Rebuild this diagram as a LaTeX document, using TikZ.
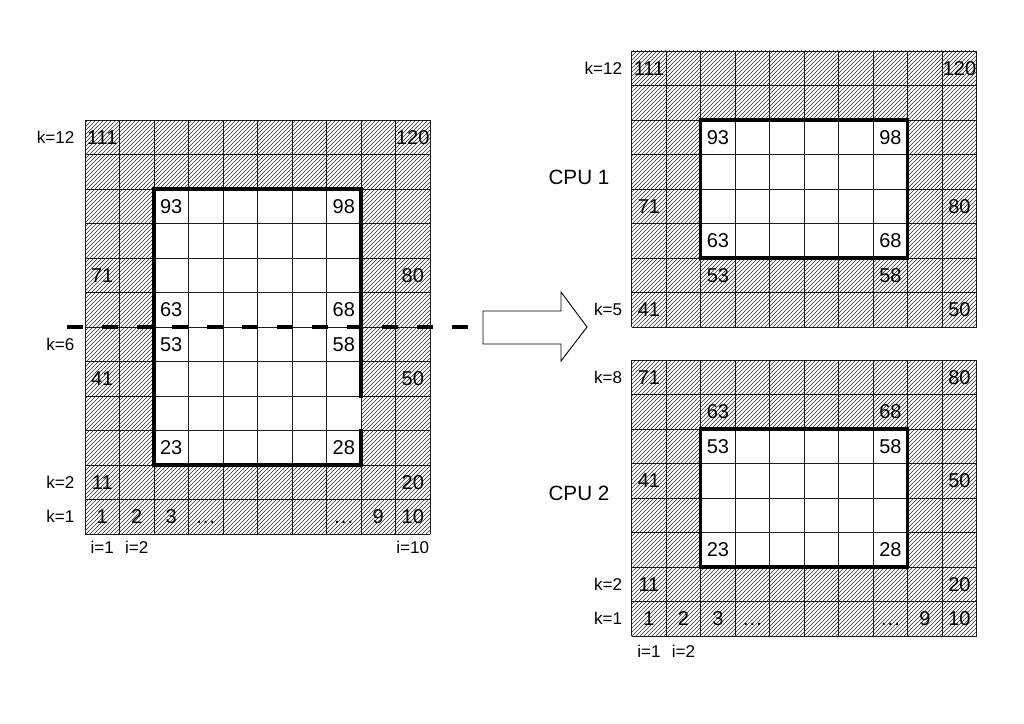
\documentclass[tikz,border=0pt]{standalone}
\usepackage{fontspec}
\setmainfont{Liberation Sans}
\definecolor{hatchgray}{HTML}{2E2E2E}
\definecolor{linegray}{HTML}{1A1A1A}
\usetikzlibrary{patterns}
\tikzset{
  hatched/.style={pattern=north east lines,pattern color=hatchgray},
  cellline/.style={linegray,line width=0.7pt},
  boldbox/.style={line width=2.6pt,line cap=rect},
  num/.style={font=\fontsize{15}{15}\selectfont,inner sep=0pt},
  klabel/.style={font=\fontsize{12.8}{12.8}\selectfont,inner sep=0pt},
  cpulabel/.style={font=\fontsize{15.5}{15.5}\selectfont,inner sep=0pt},
  cutline/.style={line width=2.8pt,dash pattern=on 12pt off 14.25pt},
}
\newcommand{\skipdots}{\vphantom{0}.\kern0.8pt.\kern0.8pt.}
% hatched 10 x #1 grid, white core in columns 3-8
\newcommand{\cellgrid}[1]{%
  \fill[hatched] (0,0) rectangle (10,#1);
  \fill[white] (2,2) rectangle (8,#1-2);
  \foreach \c in {0,...,10} \draw[cellline] (\c,0) -- (\c,#1);
  \foreach \r in {0,...,#1} \draw[cellline] (0,\r) -- (10,\r);
}
\begin{document}
\begin{tikzpicture}[x=0.75pt,y=-0.75pt]
  \useasboundingbox (0,0) rectangle (1024,724);
  % full domain
  \begin{scope}[shift={(85,120)},x=25.875pt,y=-25.875pt]
    \cellgrid{12}
    \draw[boldbox] (8,8) -- (8,2) -- (2,2) -- (2,10) -- (8,10) -- (8,9);
    \foreach \c/\r/\t/\n in {0/0/111/a,9/0/120/b,2/2/93/c,7/2/98/d,0/4/71/e,9/4/80/f,2/5/63/g,7/5/68/h,
      2/6/53/i,7/6/58/j,0/7/41/k,9/7/50/l,2/9/23/m,7/9/28/n,0/10/11/o,9/10/20/p,
      0/11/1/q,1/11/2/r,2/11/3/s,3/11/\skipdots/t,7/11/\skipdots/u,8/11/9/v,9/11/10/w}
      \node[num] (L\n) at (\c+0.5,\r+0.5) {\t};
    \foreach \r/\t/\n in {0/12/a,6/6/b,10/2/c,11/1/d}
      \node[klabel,anchor=east] (Lk\n) at (-0.3,\r+0.5) {k=\t};
    \foreach \c/\t/\n in {0/1/a,1/2/b,9/10/c}
      \node[klabel] (Li\n) at (\c+0.5,12.4) {i=\t};
    \coordinate (cutL) at (-0.52,6);
    \coordinate (cutR) at (11.1,6);
  \end{scope}
  \draw[cutline] (cutL) -- (cutR);
  % split arrow
  \draw[line width=0.7pt] (483,311) -- (561,311) -- (561,292) -- (587,327) -- (561,361) -- (561,344) -- (483,344) -- cycle;
  % CPU 1 part
  \begin{scope}[shift={(631.7,51)},x=25.875pt,y=-25.875pt]
    \cellgrid{8}
    \draw[boldbox] (2,2) rectangle (8,6);
    \foreach \c/\r/\t/\n in {0/0/111/a,9/0/120/b,2/2/93/c,7/2/98/d,0/4/71/e,9/4/80/f,
      2/5/63/g,7/5/68/h,2/6/53/i,7/6/58/j,0/7/41/k,9/7/50/l}
      \node[num] (A\n) at (\c+0.5,\r+0.5) {\t};
    \foreach \r/\t/\n in {0/12/a,7/5/b}
      \node[klabel,anchor=east] (Ak\n) at (-0.27,\r+0.5) {k=\t};
  \end{scope}
  \node[cpulabel] (cpu1) at (579,177) {CPU 1};
  % CPU 2 part
  \begin{scope}[shift={(631.7,360)},x=25.875pt,y=-25.875pt]
    \cellgrid{8}
    \draw[boldbox] (2,2) rectangle (8,6);
    \foreach \c/\r/\t/\n in {0/0/71/a,9/0/80/b,2/1/63/c,7/1/68/d,2/2/53/e,7/2/58/f,0/3/41/g,9/3/50/h,
      2/5/23/i,7/5/28/j,0/6/11/k,9/6/20/l,
      0/7/1/q,1/7/2/r,2/7/3/s,3/7/\skipdots/t,7/7/\skipdots/u,8/7/9/v,9/7/10/w}
      \node[num] (B\n) at (\c+0.5,\r+0.5) {\t};
    \foreach \r/\t/\n in {0/8/a,6/2/b,7/1/c}
      \node[klabel,anchor=east] (Bk\n) at (-0.27,\r+0.5) {k=\t};
    \foreach \c/\t/\n in {0/1/a,1/2/b}
      \node[klabel] (Bi\n) at (\c+0.5,8.45) {i=\t};
  \end{scope}
  \node[cpulabel] (cpu2) at (579,493) {CPU 2};
\end{tikzpicture}
\end{document}
